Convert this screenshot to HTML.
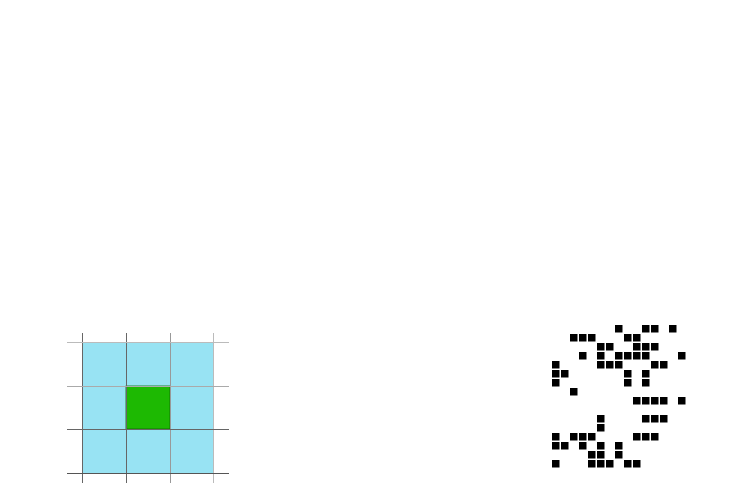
<!DOCTYPE html>
<html><head><style>body{margin:0;background:#fff}</style></head><body>
<svg width="746" height="498" xmlns="http://www.w3.org/2000/svg">
<rect x="82" y="342" width="131.5" height="131" fill="#98e3f3"/>
<rect x="126" y="386" width="44" height="43" fill="#1db902" stroke="#0d6a00" stroke-width="0.8"/>
<g stroke-width="1">
<line x1="82.5" y1="333" x2="82.5" y2="483" stroke="#666"/>
<line x1="126.5" y1="333" x2="126.5" y2="483" stroke="#666"/>
<line x1="170.5" y1="333" x2="170.5" y2="483" stroke="#999"/>
<line x1="213.5" y1="333" x2="213.5" y2="483" stroke="#bbb"/>
<line x1="67" y1="342.5" x2="229" y2="342.5" stroke="#bbb"/>
<line x1="67" y1="386.5" x2="229" y2="386.5" stroke="#aaa"/>
<line x1="67" y1="429.5" x2="229" y2="429.5" stroke="#666"/>
<line x1="67" y1="473.5" x2="229" y2="473.5" stroke="#555"/>
</g>
<path fill="#000" d="
M615 325h7.5v7.5h-7.5z M642 325h7.5v7.5h-7.5z M651 325h7.5v7.5h-7.5z M669 325h7.5v7.5h-7.5z
M570 334h7.5v7.5h-7.5z M579 334h7.5v7.5h-7.5z M588 334h7.5v7.5h-7.5z M624 334h7.5v7.5h-7.5z M633 334h7.5v7.5h-7.5z
M597 343h7.5v7.5h-7.5z M606 343h7.5v7.5h-7.5z M633 343h7.5v7.5h-7.5z M642 343h7.5v7.5h-7.5z M651 343h7.5v7.5h-7.5z
M579 352h7.5v7.5h-7.5z M597 352h7.5v7.5h-7.5z M615 352h7.5v7.5h-7.5z M624 352h7.5v7.5h-7.5z M633 352h7.5v7.5h-7.5z M642 352h7.5v7.5h-7.5z M678 352h7.5v7.5h-7.5z
M552 361h7.5v7.5h-7.5z M597 361h7.5v7.5h-7.5z M606 361h7.5v7.5h-7.5z M615 361h7.5v7.5h-7.5z M651 361h7.5v7.5h-7.5z M660 361h7.5v7.5h-7.5z
M552 370h7.5v7.5h-7.5z M561 370h7.5v7.5h-7.5z M624 370h7.5v7.5h-7.5z M642 370h7.5v7.5h-7.5z
M552 379h7.5v7.5h-7.5z M624 379h7.5v7.5h-7.5z M642 379h7.5v7.5h-7.5z
M570 388h7.5v7.5h-7.5z
M633 397h7.5v7.5h-7.5z M642 397h7.5v7.5h-7.5z M651 397h7.5v7.5h-7.5z M660 397h7.5v7.5h-7.5z M678 397h7.5v7.5h-7.5z
M597 415h7.5v7.5h-7.5z M642 415h7.5v7.5h-7.5z M651 415h7.5v7.5h-7.5z M660 415h7.5v7.5h-7.5z
M597 424h7.5v7.5h-7.5z
M552 433h7.5v7.5h-7.5z M570 433h7.5v7.5h-7.5z M579 433h7.5v7.5h-7.5z M588 433h7.5v7.5h-7.5z M633 433h7.5v7.5h-7.5z M642 433h7.5v7.5h-7.5z M651 433h7.5v7.5h-7.5z
M552 442h7.5v7.5h-7.5z M561 442h7.5v7.5h-7.5z M579 442h7.5v7.5h-7.5z M597 442h7.5v7.5h-7.5z M615 442h7.5v7.5h-7.5z
M588 451h7.5v7.5h-7.5z M597 451h7.5v7.5h-7.5z M615 451h7.5v7.5h-7.5z
M552 460h7.5v7.5h-7.5z M588 460h7.5v7.5h-7.5z M597 460h7.5v7.5h-7.5z M606 460h7.5v7.5h-7.5z M624 460h7.5v7.5h-7.5z M633 460h7.5v7.5h-7.5z"/>
</svg>
</body></html>
